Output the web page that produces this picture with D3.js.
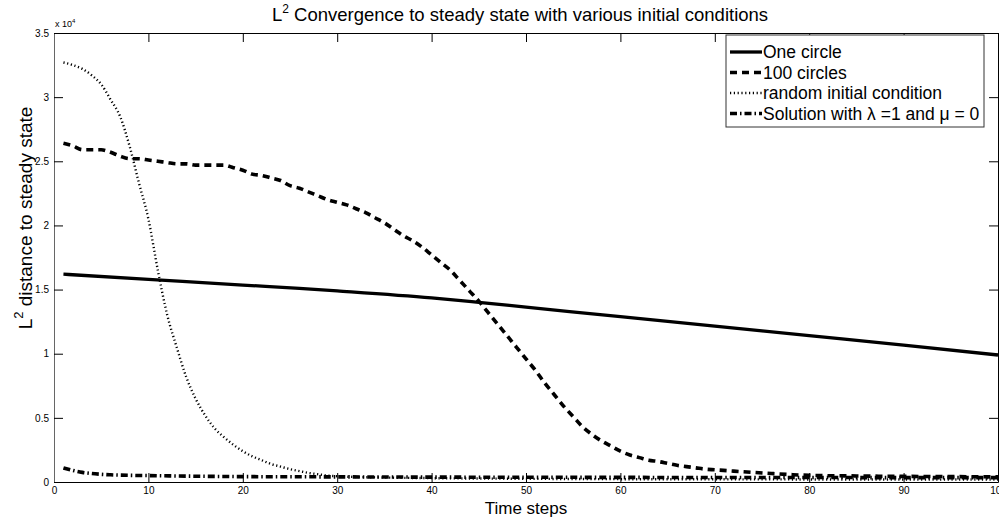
<!DOCTYPE html>
<html>
<head>
<meta charset="utf-8">
<script src="https://cdn.jsdelivr.net/npm/d3@7"></script>
<style>
  html, body { margin: 0; padding: 0; background: #fff; }
  svg { display: block; font-family: "Liberation Sans", Arial, Helvetica, sans-serif; }
</style>
</head>
<body>
<svg id="chart" width="999" height="519"></svg>
<script>
// Time steps and L2 distances (units of 1e4) for each initial condition
const oneCircleSteps = [1, 10, 20, 26, 30, 40, 45, 50, 60, 70, 80, 90, 100];
const oneCircleValues = [1.62, 1.58, 1.535, 1.51, 1.49, 1.435, 1.40, 1.363, 1.289, 1.215, 1.141, 1.067, 0.99];

const hundredCirclesSteps = [1, 2, 3, 4, 5, 6, 7, 8, 9, 10, 11, 12, 13, 14, 15, 16, 17, 18, 19, 20,
  21, 22, 23, 24, 25, 26, 27, 28, 29, 30, 31, 32, 33, 34, 35, 36, 37, 38, 39, 40,
  41, 42, 43, 44, 45, 46, 47, 48, 49, 50, 51, 52, 53, 54, 55, 56, 57, 58, 59, 60,
  61, 62, 63, 64, 65, 66, 67, 68, 69, 70, 72, 74, 76, 78, 80, 85, 90, 95, 100];
const hundredCirclesValues = [2.64, 2.62, 2.59, 2.59, 2.59, 2.57, 2.54, 2.52, 2.52, 2.51, 2.50, 2.49, 2.48, 2.48, 2.47, 2.47, 2.47, 2.47, 2.45, 2.43,
  2.40, 2.39, 2.37, 2.35, 2.31, 2.29, 2.26, 2.23, 2.20, 2.18, 2.16, 2.13, 2.10, 2.06, 2.02, 1.97, 1.92, 1.88, 1.83, 1.77,
  1.71, 1.65, 1.57, 1.49, 1.41, 1.32, 1.23, 1.14, 1.05, 0.96, 0.87, 0.77, 0.68, 0.59, 0.51, 0.43, 0.37, 0.32, 0.28, 0.24,
  0.21, 0.19, 0.17, 0.16, 0.145, 0.13, 0.12, 0.11, 0.10, 0.095, 0.085, 0.075, 0.066, 0.058, 0.052, 0.047, 0.044, 0.042, 0.04];

const randomSteps = [1, 2, 3, 4, 5, 6, 7, 8, 9, 10, 11, 12, 13, 14, 15, 16, 17, 18, 19, 20,
  21, 22, 23, 24, 25, 26, 27, 28, 29, 30, 35, 40, 50, 60, 70, 80, 90, 100];
const randomValues = [3.27, 3.25, 3.22, 3.17, 3.10, 2.98, 2.85, 2.62, 2.33, 2.05, 1.65, 1.30, 1.05, 0.82, 0.65, 0.52, 0.42, 0.35, 0.29, 0.24,
  0.20, 0.17, 0.14, 0.12, 0.10, 0.085, 0.07, 0.06, 0.05, 0.045, 0.035, 0.03, 0.025, 0.022, 0.021, 0.02, 0.02, 0.02];

const solutionSteps = [1, 2, 3, 4, 5, 6, 8, 10, 15, 20, 30, 40, 50, 60, 70, 80, 90, 100];
const solutionValues = [0.11, 0.09, 0.075, 0.066, 0.06, 0.056, 0.052, 0.05, 0.045, 0.042, 0.04, 0.038, 0.037, 0.036, 0.035, 0.035, 0.034, 0.034];

const xTicks = [0, 10, 20, 30, 40, 50, 60, 70, 80, 90, 100];
const yTicks = [0, 0.5, 1, 1.5, 2, 2.5, 3, 3.5];

const seriesNames = ["One circle", "100 circles", "random initial condition", "Solution with \u03bb =1 and \u03bc = 0"];

const series = [
  { name: seriesNames[0], steps: oneCircleSteps, values: oneCircleValues, width: 3.3, dash: null },
  { name: seriesNames[1], steps: hundredCirclesSteps, values: hundredCirclesValues, width: 3.6, dash: "7,5" },
  { name: seriesNames[2], steps: randomSteps, values: randomValues, width: 2.4, dash: "1.2,2.6" },
  { name: seriesNames[3], steps: solutionSteps, values: solutionValues, width: 3.6, dash: "7,3,1.5,3" }
];

const svg = d3.select("#chart");
const plot = { left: 54, right: 998, top: 33, bottom: 482 };

const x = d3.scaleLinear().domain([0, 100]).range([plot.left, plot.right]);
const y = d3.scaleLinear().domain([0, 3.5]).range([plot.bottom, plot.top]);

// clip lines to plot box
svg.append("defs").append("clipPath").attr("id", "plotClip")
  .append("rect")
  .attr("x", plot.left).attr("y", plot.top)
  .attr("width", plot.right - plot.left).attr("height", plot.bottom - plot.top);

// Data lines
const line = d3.line()
  .x(d => x(d[0]))
  .y(d => y(d[1]))
  .curve(d3.curveMonotoneX);

const linesG = svg.append("g").attr("clip-path", "url(#plotClip)");
series.forEach(s => {
  const pts = s.steps.map((t, i) => [t, s.values[i]]);
  linesG.append("path")
    .datum(pts)
    .attr("d", line)
    .attr("fill", "none")
    .attr("stroke", "#000")
    .attr("stroke-width", s.width)
    .attr("stroke-dasharray", s.dash)
    .attr("stroke-linejoin", "round");
});

// Axes (MATLAB style: ticks point inward on all four sides)
const tickLen = 9;
const fmt = d => d3.format("~g")(d);

const bottomAxis = d3.axisBottom(x).tickValues(xTicks).tickSizeInner(-tickLen).tickSizeOuter(0).tickPadding(5).tickFormat(fmt);
const topAxis = d3.axisTop(x).tickValues(xTicks).tickSizeInner(-tickLen).tickSizeOuter(0).tickFormat("");
const leftAxis = d3.axisLeft(y).tickValues(yTicks).tickSizeInner(-tickLen).tickSizeOuter(0).tickPadding(5).tickFormat(fmt);
const rightAxis = d3.axisRight(y).tickValues(yTicks).tickSizeInner(-tickLen).tickSizeOuter(0).tickFormat("");

function styleAxis(g, color) {
  g.select(".domain").attr("stroke", color).attr("stroke-width", 1);
  g.selectAll(".tick line").attr("stroke", "#000").attr("stroke-width", 1);
  g.selectAll(".tick text").attr("fill", "#000").attr("font-size", 10)
    .attr("font-family", "'Liberation Sans', Arial, sans-serif");
}

svg.append("g").attr("transform", `translate(0,${plot.bottom})`).call(bottomAxis).call(g => styleAxis(g, "#000"));
svg.append("g").attr("transform", `translate(0,${plot.top})`).call(topAxis).call(g => styleAxis(g, "#000"));
svg.append("g").attr("transform", `translate(${plot.left},0)`).call(leftAxis).call(g => styleAxis(g, "#666"));
svg.append("g").attr("transform", `translate(${plot.right},0)`).call(rightAxis).call(g => styleAxis(g, "#000"));

// Exponent label for the y axis
const expo = svg.append("text")
  .attr("x", plot.left + 1).attr("y", plot.top - 6)
  .attr("font-size", 9).attr("fill", "#000");
expo.append("tspan").text("x 10");
expo.append("tspan").attr("dy", -4).attr("font-size", 6).text("4");

// Title
const title = svg.append("text")
  .attr("x", 520).attr("y", 21)
  .attr("text-anchor", "middle")
  .attr("font-size", 18.5).attr("fill", "#000");
title.append("tspan").text("L");
title.append("tspan").attr("dy", -8).attr("font-size", 12).text("2");
title.append("tspan").attr("dy", 8).text(" Convergence to steady state with various initial conditions");

// Axis titles
svg.append("text")
  .attr("x", (plot.left + plot.right) / 2).attr("y", 514)
  .attr("text-anchor", "middle")
  .attr("font-size", 17).attr("fill", "#000")
  .text("Time steps");

const ylab = svg.append("text")
  .attr("transform", `translate(32,218) rotate(-90)`)
  .attr("text-anchor", "middle")
  .attr("font-size", 19).attr("fill", "#000");
ylab.append("tspan").text("L");
ylab.append("tspan").attr("dy", -9).attr("font-size", 13).text("2");
ylab.append("tspan").attr("dy", 9).text(" distance to steady state");

// Legend
const legend = { x: 726, y: 35, w: 258, h: 92, rowH: 20.5, first: 17 };
const lg = svg.append("g");
lg.append("rect")
  .attr("x", legend.x).attr("y", legend.y)
  .attr("width", legend.w).attr("height", legend.h)
  .attr("fill", "#fff").attr("stroke", "#333").attr("stroke-width", 1);

series.forEach((s, i) => {
  const cy = legend.y + legend.first + i * legend.rowH;
  lg.append("line")
    .attr("x1", legend.x + 4).attr("x2", legend.x + 36)
    .attr("y1", cy).attr("y2", cy)
    .attr("stroke", "#000")
    .attr("stroke-width", s.width)
    .attr("stroke-dasharray", s.dash);
  lg.append("text")
    .attr("x", legend.x + 37).attr("y", cy + 6)
    .attr("font-size", 17.5).attr("fill", "#000")
    .text(s.name);
});
</script>
</body>
</html>
